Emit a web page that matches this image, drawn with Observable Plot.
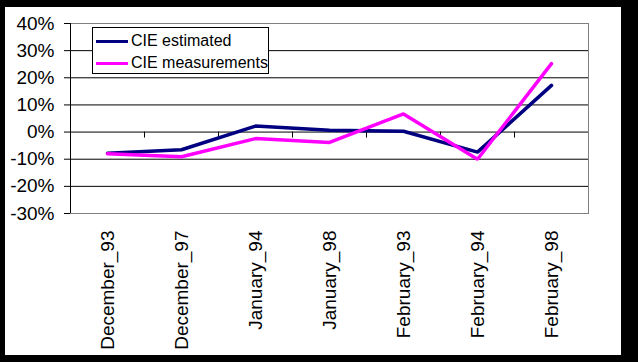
<!DOCTYPE html>
<html>
<head>
<meta charset="utf-8">
<script src="https://cdn.jsdelivr.net/npm/d3@7"></script>
<script src="https://cdn.jsdelivr.net/npm/@observablehq/plot@0.6"></script>
<style>
  html, body { margin: 0; padding: 0; background: #fff; }
  #wrap { position: relative; width: 638px; height: 362px; background: #000; overflow: hidden; }
  #inner { position: absolute; left: 5px; top: 7px; width: 616px; height: 348px; background: #fff; }
  #inner svg { display: block; }
  #legend { position: absolute; left: 92px; top: 27px; width: 175px; height: 45px; border: 1px solid #000; background: #fff;
            font-family: "Liberation Sans", Arial, sans-serif; font-size: 16px; color: #000; }
  .item { position: absolute; left: 0; height: 20px; display: flex; align-items: center; }
  .sw { width: 32px; height: 3px; margin-left: 3px; margin-right: 3px; }
</style>
</head>
<body>
<div id="wrap">
  <div id="inner"></div>
  <div id="legend"></div>
</div>
<script>
const categories = ["December_93","December_97","January_94","January_98","February_93","February_94","February_98"];
const estimated = [-0.078, -0.065, 0.022, 0.007, 0.003, -0.074, 0.172];
const measured = [-0.080, -0.091, -0.024, -0.038, 0.067, -0.100, 0.252];
const seriesNames = ["CIE estimated", "CIE measurements"];
const seriesColors = ["#000080", "#FF00FF"];
const yTicks = [-0.3, -0.2, -0.1, 0, 0.1, 0.2, 0.3, 0.4];

const idx = categories.map((_, i) => i);
const boundaries = idx.slice(1).map(i => i - 0.5);
const rows = [];
[estimated, measured].forEach((vals, s) => vals.forEach((v, i) => rows.push({series: seriesNames[s], i, v})));

const font = '"Liberation Sans", Arial, sans-serif';
const chart = Plot.plot({
  width: 616,
  height: 348,
  marginLeft: 65,
  marginRight: 33,
  marginTop: 16,
  marginBottom: 142,
  style: {fontFamily: font, fontSize: "19px", color: "#000", background: "#fff"},
  x: {type: "linear", domain: [-0.5, categories.length - 0.5]},
  y: {domain: [-0.3, 0.4]},
  color: {domain: seriesNames, range: seriesColors},
  marks: [
    Plot.frame({stroke: "#808080", strokeWidth: 1}),
    Plot.gridY(yTicks.slice(1, -1), {stroke: "#000", strokeOpacity: 1, strokeWidth: 1}),
    Plot.ruleX([-0.5], {stroke: "#000", strokeWidth: 1}),
    Plot.ruleX(boundaries, {x: d => d, y1: 0, y2: 0, insetBottom: -6, stroke: "#000"}),
    Plot.axisY({ticks: yTicks, tickSize: 6, tickPadding: 10, tickFormat: d => Math.round(d * 100) + "%", label: null, fontSize: 19}),
    Plot.axisX({ticks: idx, tickSize: 0, tickPadding: 17, tickRotate: -90, tickFormat: i => categories[i], label: null, fontSize: 19}),
    Plot.line(rows, {x: "i", y: "v", z: "series", stroke: "series", strokeWidth: 3.5, strokeLinejoin: "miter"})
  ]
});
document.getElementById("inner").appendChild(chart);

const legend = document.getElementById("legend");
seriesNames.forEach((name, s) => {
  const item = document.createElement("div");
  item.className = "item";
  item.style.top = (3 + s * 22) + "px";
  const sw = document.createElement("div");
  sw.className = "sw";
  sw.style.background = seriesColors[s];
  const t = document.createElement("span");
  t.textContent = name;
  item.appendChild(sw);
  item.appendChild(t);
  legend.appendChild(item);
});
</script>
</body>
</html>
